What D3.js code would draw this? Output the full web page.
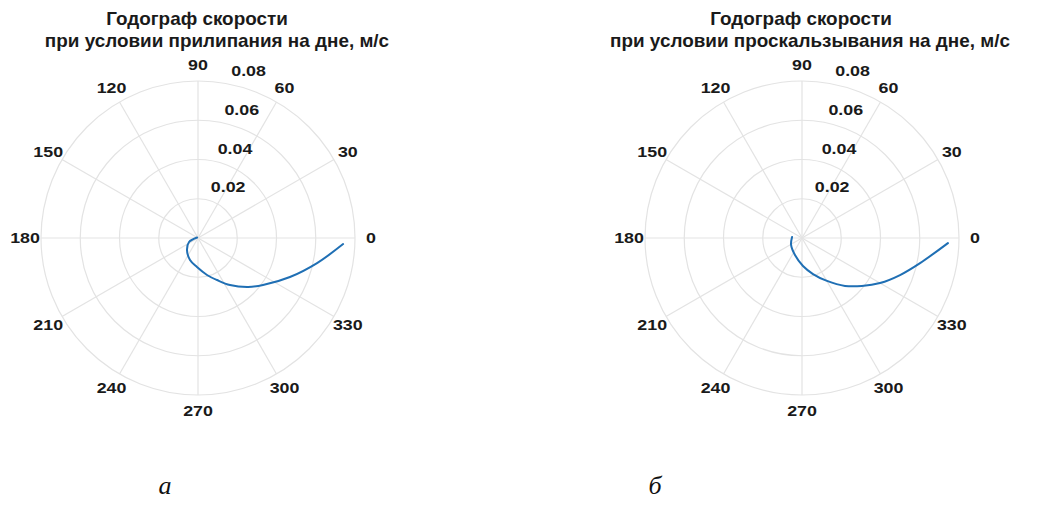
<!DOCTYPE html>
<html>
<head>
<meta charset="utf-8">
<script src="https://cdn.jsdelivr.net/npm/d3@7"></script>
<style>
  html, body { margin: 0; padding: 0; background: #fff; }
  svg { display: block; }
  .title { font-family: "Liberation Sans", Arial, sans-serif; font-weight: bold; font-size: 18px; fill: #1a1a1a; }
  .tick { font-family: "Liberation Sans", Arial, sans-serif; font-weight: bold; font-size: 15.5px; fill: #1a1a1a; }
  .caption { font-family: "Liberation Serif", "Times New Roman", serif; font-style: italic; font-size: 26px; fill: #111; }
</style>
</head>
<body>
<svg id="chart" width="1054" height="509"></svg>
<script>
// Polar axis ticks
const angleTicks = [0, 30, 60, 90, 120, 150, 180, 210, 240, 270, 300, 330];
const radialTicks = [0.02, 0.04, 0.06, 0.08];
const radialMax = 0.08;

// Titles and panel captions
const titleTop = "Годограф скорости";
const titleStick = "при условии прилипания на дне, м/с";
const titleSlip = "при условии проскальзывания на дне, м/с";
const captions = ["а", "б"];

// Velocity hodograph, no-slip bottom: direction (deg) and speed (m/s)
const thetaStick = [150, 204, 227.5, 250, 268, 283.7, 294.3, 304.2, 315.6, 324.1, 337, 348.1, 357.6];
const rStick     = [0.0005, 0.0050, 0.0083, 0.0119, 0.0148, 0.0194, 0.0235, 0.0290, 0.0357, 0.0409, 0.0509, 0.0620, 0.0740];

// Velocity hodograph, slip bottom: direction (deg) and speed (m/s)
const thetaSlip = [174, 212.5, 247.6, 272, 287, 300.2, 311.9, 321.3, 330, 339.3, 348, 358];
const rSlip     = [0.0051, 0.0066, 0.0094, 0.0143, 0.0192, 0.0253, 0.0328, 0.0391, 0.0459, 0.0534, 0.0615, 0.0744];

const svg = d3.select("#chart");
const R = 157;
const rScale = d3.scaleLinear().domain([0, radialMax]).range([0, R]);
const toRad = d => d * Math.PI / 180;

// horizontally widened text
function wideText(sel, x, y, k) {
  return sel.attr("x", 0).attr("y", 0)
    .attr("transform", (d, i) => `translate(${x(d, i)},${y(d, i)}) scale(${k},1)`);
}

function polarPanel(cx, cy, subtitle, subtitleX, thetas, radii, caption, captionX) {
  const g = svg.append("g").attr("transform", `translate(${cx},${cy})`);
  const grid = "#e3e3e3";

  // concentric rings
  g.selectAll("circle.ring").data(radialTicks).join("circle")
    .attr("class", "ring")
    .attr("r", d => rScale(d))
    .attr("fill", "none").attr("stroke", grid).attr("stroke-width", 1.2);

  // spokes
  g.selectAll("line.spoke").data(angleTicks).join("line")
    .attr("x1", 0).attr("y1", 0)
    .attr("x2", d => rScale(radialMax) * Math.cos(toRad(d)))
    .attr("y2", d => -rScale(radialMax) * Math.sin(toRad(d)))
    .attr("stroke", grid).attr("stroke-width", 1.2);

  // angle labels
  const labR = R + 16;
  wideText(g.selectAll("text.ang").data(angleTicks).join("text"),
      d => labR * Math.cos(toRad(d)),
      d => -labR * Math.sin(toRad(d)), 1.15)
    .attr("class", "tick")
    .attr("text-anchor", "middle")
    .attr("dominant-baseline", "central")
    .text(d => d);

  // radial labels along 80°
  wideText(g.selectAll("text.rad").data(radialTicks).join("text"),
      d => rScale(d) * Math.cos(toRad(80)) + 6,
      d => -rScale(d) * Math.sin(toRad(80)) - 7, 1.15)
    .attr("class", "tick")
    .attr("text-anchor", "start")
    .text(d => d3.format(".2f")(d));

  // hodograph curve
  const pts = thetas.map((t, i) => [t, radii[i]]);
  const line = d3.lineRadial()
    .angle(d => toRad(90 - d[0]))
    .radius(d => rScale(d[1]))
    .curve(d3.curveCatmullRom.alpha(0.5));
  g.append("path").datum(pts)
    .attr("d", line)
    .attr("fill", "none")
    .attr("stroke", "#1f6fb4")
    .attr("stroke-width", 2)
    .attr("stroke-linecap", "round");

  // titles
  wideText(svg.append("text"), () => cx - 1, () => 25, 1.05)
    .attr("class", "title").attr("text-anchor", "middle").text(titleTop);
  wideText(svg.append("text"), () => subtitleX, () => 47, 1.05)
    .attr("class", "title").attr("text-anchor", "middle").text(subtitle);

  // caption
  svg.append("text").attr("class", "caption")
    .attr("x", captionX).attr("y", 494).attr("text-anchor", "middle").text(caption);
}

polarPanel(198, 238, titleStick, 217, thetaStick, rStick, captions[0], 165);
polarPanel(802, 238, titleSlip, 810, thetaSlip, rSlip, captions[1], 655);
</script>
</body>
</html>
